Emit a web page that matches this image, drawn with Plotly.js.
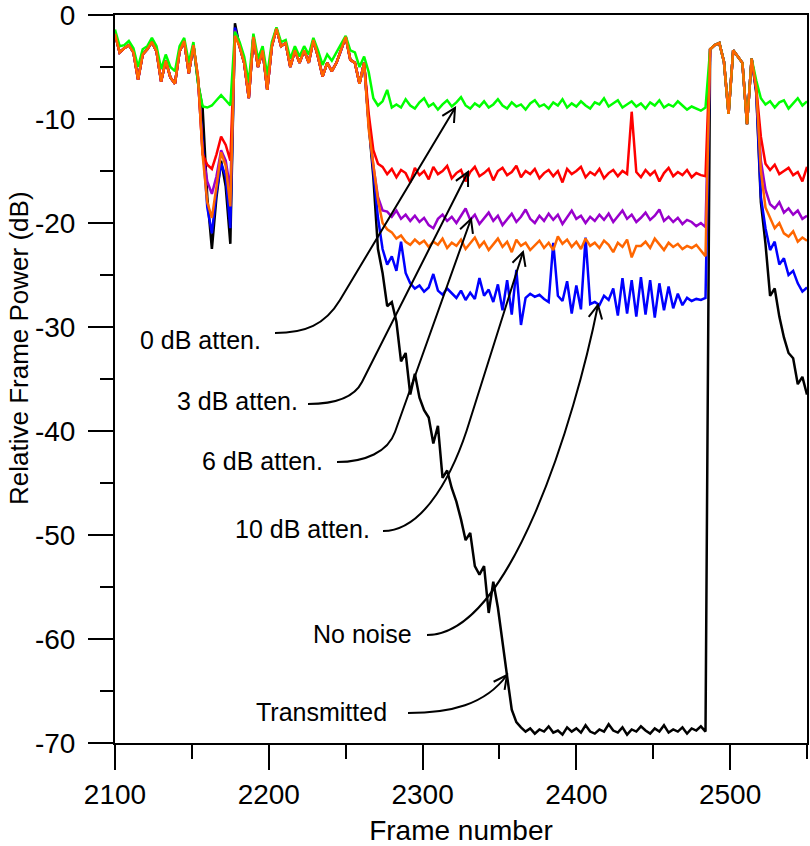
<!DOCTYPE html>
<html>
<head>
<meta charset="utf-8">
<script src="https://cdn.plot.ly/plotly-3.0.1.min.js"></script>
<style>html,body{margin:0;padding:0;background:#fff;}#chart{width:810px;height:846px;}</style>
</head>
<body>
<div id="chart"></div>
<script>
// ---------- DATA (frame step = 3, frames 2100..2550) ----------
const frameStart = 2100, frameStep = 3, frameCount = 151;
const frames = Array.from({length: frameCount}, (_, i) => frameStart + frameStep * i);

// frames 2100..2151 (shared by all noise levels)
const headA = [-1.8, -3.6, -3.2, -2.9, -3.6, -6.2, -3.8, -3.3, -2.6, -3.5, -6.4, -4.4, -6.0, -6.6, -3.5, -2.5, -5.6, -2.9];
const greenHeadA = [-1.4, -3.0, -2.9, -2.5, -3.2, -5.0, -3.3, -3.0, -2.2, -3.0, -5.2, -3.8, -5.0, -5.4, -3.0, -2.2, -4.6, -2.6];

// frames 2154..2178 (fade)
const blackDip  = [-6.5, -9.0, -17.5, -22.5, -17.5, -14.0, -16.5, -22.0, -0.8];
const blueDip   = [-6.3, -12.5, -18.5, -21.0, -17.0, -14.3, -15.5, -20.5, -1.2];
const purpleDip = [-6.2, -13.2, -16.0, -17.2, -15.5, -13.0, -14.0, -16.8, -1.5];
const redDip    = [-6.0, -13.4, -14.4, -14.8, -13.4, -11.7, -12.5, -14.0, -1.8];
const greenDip  = [-6.6, -8.8, -8.9, -8.7, -8.2, -7.7, -8.2, -8.7, -1.6];
const orangeDip = [-6.0, -13.5, -18.0, -19.5, -16.5, -13.2, -14.5, -18.4, -2.0];

// frames 2181..2262
const headB = [-3.0, -4.6, -8.0, -2.1, -5.0, -3.4, -7.2, -3.0, -1.3, -3.0, -2.7, -5.0, -3.4, -4.6, -3.4, -4.6, -2.4, -4.0, -5.9, -4.6, -5.4, -4.6, -3.4, -2.1, -4.3, -4.6, -6.6, -4.6];
const greenHeadB = [-2.6, -4.0, -6.5, -1.8, -4.2, -3.0, -5.8, -2.6, -1.2, -2.6, -2.4, -4.2, -3.0, -4.0, -3.0, -3.8, -2.2, -3.4, -4.8, -3.8, -4.4, -3.6, -2.8, -2.0, -3.4, -3.6, -5.0, -4.0];

// frames 2265..2484 (silence period)
const blackPlateau = [
  -10.5, -15.6, -22.5, -24.8, -28.0, -27.6, -29.5, -33.3, -32.5, -36.5,
  -34.5, -36.8, -38.0, -38.7, -41.2, -39.5, -44.5, -43.8, -45.5, -46.8,
  -48.5, -50.5, -49.8, -53.0, -53.8, -53.0, -57.5, -54.5, -57.0, -60.5,
  -63.6, -66.8, -68.0, -68.5,
  -68.9, -68.6, -69.1, -68.7, -68.9, -68.4, -69.0, -68.8, -69.2, -68.5,
  -68.9, -68.6, -69.0, -68.3, -68.9, -69.1, -68.7, -68.9, -68.2, -68.8,
  -69.0, -68.5, -69.2, -68.7, -68.9, -68.4, -68.8, -69.1, -68.6, -68.9,
  -68.3, -69.0, -68.7, -68.9, -68.5, -69.1, -68.6, -68.8, -68.4, -68.9];
const bluePlateau = [
  -10.5, -15.0, -19.5, -22.5, -24.0, -23.2, -24.6, -21.8, -24.8, -25.8,
  -26.3, -26.0, -26.6, -26.2, -24.9, -26.5, -26.9, -26.3, -26.8, -27.2,
  -26.5, -27.4, -26.7, -27.3, -25.3, -27.0, -26.4, -27.6, -25.9, -28.4,
  -25.5, -28.8, -24.5, -29.8, -27.2, -26.8, -27.1, -26.9, -27.3, -27.6,
  -21.9, -27.0, -27.5, -25.6, -28.7, -26.0, -28.3, -21.4, -27.8, -27.6,
  -27.9, -27.0, -27.4, -26.3, -28.9, -25.3, -28.7, -25.5, -29.0, -25.2,
  -28.8, -25.5, -29.1, -25.8, -28.4, -26.1, -28.2, -26.8, -27.9, -27.2,
  -27.5, -27.3, -27.4, -27.2];
const purplePlateau = [
  -10.5, -14.5, -17.5, -18.8, -18.9, -19.4, -18.8, -19.6, -19.2, -19.8,
  -19.3, -19.9, -19.5, -20.2, -20.5, -19.6, -19.2, -19.8, -19.4, -20.0,
  -19.3, -18.6, -19.7, -19.2, -20.1, -19.5, -19.0, -19.8, -19.3, -20.2,
  -19.6, -19.1, -19.9, -19.4, -18.7, -19.6, -20.0, -19.3, -19.8, -19.1,
  -19.7, -19.2, -20.1, -19.5, -18.8, -19.6, -19.3, -20.0, -19.4, -19.8,
  -19.2, -19.7, -19.1, -19.9, -19.4, -18.8, -19.6, -19.2, -19.9, -19.5,
  -19.0, -19.7, -19.3, -18.7, -19.8, -19.4, -19.9, -19.5, -20.1, -19.7,
  -19.9, -20.3, -20.0, -20.4];
const redPlateau = [
  -9.5, -13.0, -14.3, -14.6, -15.3, -14.8, -15.6, -14.9, -15.2, -16.1,
  -14.7, -15.4, -15.0, -15.8, -14.6, -15.3, -15.0, -14.5, -15.7, -15.2,
  -14.9, -16.0, -15.1, -14.6, -15.5, -15.2, -14.8, -15.9, -15.0, -14.7,
  -15.4, -15.1, -14.5, -15.6, -15.0, -15.3, -14.8, -15.7, -15.2, -14.9,
  -15.5, -15.0, -16.1, -14.8, -15.3, -15.0, -14.6, -15.6, -15.1, -15.4,
  -14.8, -15.7, -15.2, -14.9, -15.5, -15.0, -15.3, -9.3, -15.1, -15.6,
  -14.9, -15.4, -15.0, -16.0, -15.2, -14.7, -15.5, -15.1, -15.4, -14.9,
  -15.6, -15.2, -15.4, -15.5];
const greenPlateau = [
  -5.5, -8.0, -8.7, -8.3, -7.2, -8.9, -8.6, -8.9, -8.1, -8.7,
  -9.0, -8.4, -8.0, -8.8, -8.5, -9.1, -8.6, -8.2, -8.8, -8.4,
  -7.9, -8.7, -9.0, -8.5, -8.8, -8.3, -8.9, -8.6, -8.1, -8.7,
  -9.0, -8.4, -8.8, -8.6, -9.1, -8.5, -8.2, -8.8, -8.6, -9.0,
  -8.4, -8.7, -8.1, -8.9, -8.5, -8.8, -8.3, -8.7, -9.0, -8.4,
  -8.6, -8.0, -8.8, -8.5, -8.2, -8.9, -8.6, -8.3, -8.8, -8.5,
  -9.0, -8.4, -8.7, -8.2, -8.9, -8.6, -8.8, -8.3, -8.7, -9.1,
  -8.8, -9.0, -9.2, -8.9];
const orangePlateau = [
  -11.0, -14.5, -17.8, -20.0, -20.6, -20.9, -21.5, -21.2, -21.8, -22.1,
  -21.6, -22.0, -21.7, -22.3, -21.8, -22.1, -21.5, -22.4, -21.9, -22.2,
  -21.6, -22.5, -22.0, -21.4, -22.3, -21.8, -22.6, -22.0, -21.5, -22.3,
  -21.8, -22.8, -21.6, -22.2, -21.9, -22.6, -22.1, -21.7, -22.4, -21.9,
  -22.6, -21.3, -22.0, -21.6, -22.3, -21.8, -22.5, -21.5, -22.2, -21.9,
  -22.4, -21.7, -22.1, -22.8, -21.9, -22.3, -21.6, -23.3, -22.2, -22.2,
  -21.8, -22.4, -21.5, -22.1, -22.6, -21.9, -22.3, -22.0, -22.5, -22.2,
  -22.4, -22.1, -22.6, -23.2];

// frames 2487..2514 (speech resumes, shared)
const topC = [-3.3, -2.9, -2.7, -4.5, -9.5, -3.4, -4.0, -4.6, -10.5, -4.2];

// frames 2517..2550
const blackTail  = [-7.5, -18.0, -22.0, -27.0, -26.3, -29.0, -31.0, -32.5, -33.0, -35.5, -34.8, -36.5];
const blueTail   = [-7.3, -17.5, -20.5, -22.6, -21.8, -24.0, -23.4, -25.0, -24.6, -25.8, -26.6, -26.2];
const purpleTail = [-7.2, -14.0, -16.8, -18.2, -18.6, -18.0, -19.0, -18.6, -19.2, -18.8, -19.6, -19.3];
const redTail    = [-7.0, -11.7, -14.3, -14.9, -14.4, -15.3, -15.0, -14.7, -15.4, -15.1, -16.0, -14.6];
const greenTail  = [-6.3, -8.0, -8.6, -8.3, -8.9, -8.4, -8.2, -9.0, -8.5, -8.0, -8.7, -8.3];
const orangeTail = [-7.0, -15.0, -18.5, -19.5, -20.5, -20.0, -21.0, -21.3, -20.8, -21.8, -21.4, -21.7];

const yTickVals = [-70, -60, -50, -40, -30, -20, -10, 0];
const yTickLabels = ['-70', '-60', '-50', '-40', '-30', '-20', '-10', '0'];
const xTickVals = [2100, 2200, 2300, 2400, 2500];
const xTickLabels = ['2100', '2200', '2300', '2400', '2500'];

const labelTexts = ['0 dB atten.', '3 dB atten.', '6 dB atten.', '10 dB atten.', 'No noise', 'Transmitted'];

// ---------- SERIES ----------
const seriesDefs = [
  {name: 'Transmitted', color: '#000000', y: [...headA, ...blackDip, ...headB, ...blackPlateau, ...topC, ...blackTail]},
  {name: 'No noise', color: '#0000ff', y: [...headA, ...blueDip, ...headB, ...bluePlateau, ...topC, ...blueTail]},
  {name: '6 dB atten.', color: '#9900cc', y: [...headA, ...purpleDip, ...headB, ...purplePlateau, ...topC, ...purpleTail]},
  {name: '3 dB atten.', color: '#ff0000', y: [...headA, ...redDip, ...headB, ...redPlateau, ...topC, ...redTail]},
  {name: '0 dB atten.', color: '#00ff00', y: [...greenHeadA, ...greenDip, ...greenHeadB, ...greenPlateau, ...topC, ...greenTail]},
  {name: '10 dB atten.', color: '#ff6600', y: [...headA, ...orangeDip, ...headB, ...orangePlateau, ...topC, ...orangeTail]}
];

const traces = seriesDefs.map(s => ({
  type: 'scatter', mode: 'lines', name: s.name, x: frames, y: s.y,
  line: {color: s.color, width: 2.5}, hoverinfo: 'skip'
}));

// ---------- LAYOUT / ANNOTATION GEOMETRY ----------
const M = {l: 115, r: 3, t: 15, b: 103};
const W = 810, H = 846;
const xr = [2100, 2550], yr = [-70, 0];
const pw = W - M.l - M.r, ph = H - M.t - M.b;
const X = px => xr[0] + (px - M.l) * (xr[1] - xr[0]) / pw;
const Y = py => yr[1] - (py - M.t) * (yr[1] - yr[0]) / ph;
const P = p => X(p[0]) + ',' + Y(p[1]);

// callouts in pixel space: label right end, curve start, bezier controls, bend end, arrow tip
const callouts = [
  {lab: [263, 340], s: [275, 333], c1: [305, 333], c2: [325, 325], b: [340, 300], tip: [455, 108]},
  {lab: [300, 401], s: [308, 404], c1: [335, 404], c2: [354, 398], b: [362, 382], tip: [468, 172]},
  {lab: [325, 461], s: [337, 462], c1: [365, 462], c2: [388, 452], b: [395, 432], tip: [471, 219]},
  {lab: [372, 529], s: [383, 531], c1: [425, 531], c2: [455, 470], b: [470, 420], tip: [523, 252]},
  {lab: [414, 634], s: [427, 635], c1: [510, 635], c2: [575, 420], b: [598, 305], tip: null},
  {lab: [389, 712], s: [408, 713], c1: [450, 713], c2: [485, 705], b: [507, 675], tip: null}
];

const shapes = [];
const annotations = [];
callouts.forEach((c, i) => {
  let path = 'M ' + P(c.s) + ' C ' + P(c.c1) + ' ' + P(c.c2) + ' ' + P(c.b);
  let tip = c.b, prev = c.c2;
  if (c.tip) { path += ' L ' + P(c.tip); tip = c.tip; prev = c.b; }
  shapes.push({type: 'path', path: path, xref: 'x', yref: 'y', layer: 'above',
               line: {color: '#000', width: 2}});
  // open arrowhead
  let dx = tip[0] - prev[0], dy = tip[1] - prev[1];
  const L = Math.hypot(dx, dy); dx /= L; dy /= L;
  const len = 15, th = 27 * Math.PI / 180;
  const rot = a => [dx * Math.cos(a) - dy * Math.sin(a), dx * Math.sin(a) + dy * Math.cos(a)];
  const r1 = rot(th), r2 = rot(-th);
  const a1 = [tip[0] - len * r1[0], tip[1] - len * r1[1]];
  const a2 = [tip[0] - len * r2[0], tip[1] - len * r2[1]];
  shapes.push({type: 'path', path: 'M ' + P(a1) + ' L ' + P(tip) + ' L ' + P(a2),
               xref: 'x', yref: 'y', layer: 'above', line: {color: '#000', width: 2}});
  annotations.push({text: labelTexts[i], x: X(c.lab[0]), y: Y(c.lab[1]), xref: 'x', yref: 'y',
                    xanchor: 'right', yanchor: 'middle', showarrow: false,
                    font: {size: 25, color: '#000'}});
});

// y-axis title
annotations.push({text: 'Relative Frame Power (dB)', textangle: -90, xref: 'paper', yref: 'paper',
                  x: (19 - M.l) / pw, y: (H - M.b - 348) / ph, xanchor: 'center', yanchor: 'middle',
                  showarrow: false, font: {size: 26, color: '#000'}});

const axisCommon = {
  showgrid: false, zeroline: false, showline: true, linecolor: '#000', linewidth: 2, mirror: true,
  ticks: 'outside', ticklen: 25, tickwidth: 2, tickcolor: '#000', tickfont: {size: 28, color: '#000'},
  ticklabeloverflow: 'allow'
};

const layout = {
  width: W, height: H, margin: M, paper_bgcolor: '#fff', plot_bgcolor: '#fff', showlegend: false,
  font: {family: 'Liberation Sans, Arial, Helvetica, sans-serif', color: '#000'},
  xaxis: Object.assign({}, axisCommon, {
    range: xr, tickmode: 'array', tickvals: xTickVals, ticktext: xTickLabels,
    minor: {tickmode: 'linear', tick0: 2100, dtick: 50, ticks: 'outside', ticklen: 14, tickwidth: 2, tickcolor: '#000', showgrid: false},
    title: {text: 'Frame number', font: {size: 28, color: '#000'}, standoff: 13}
  }),
  yaxis: Object.assign({}, axisCommon, {
    range: yr, tickmode: 'array', tickvals: yTickVals, ticktext: yTickLabels, ticklabelstandoff: 7,
    minor: {tickmode: 'linear', tick0: -70, dtick: 5, ticks: 'outside', ticklen: 13, tickwidth: 2, tickcolor: '#000', showgrid: false}
  }),
  shapes: shapes,
  annotations: annotations
};

Plotly.newPlot('chart', traces, layout, {staticPlot: true, displayModeBar: false});
</script>
</body>
</html>
